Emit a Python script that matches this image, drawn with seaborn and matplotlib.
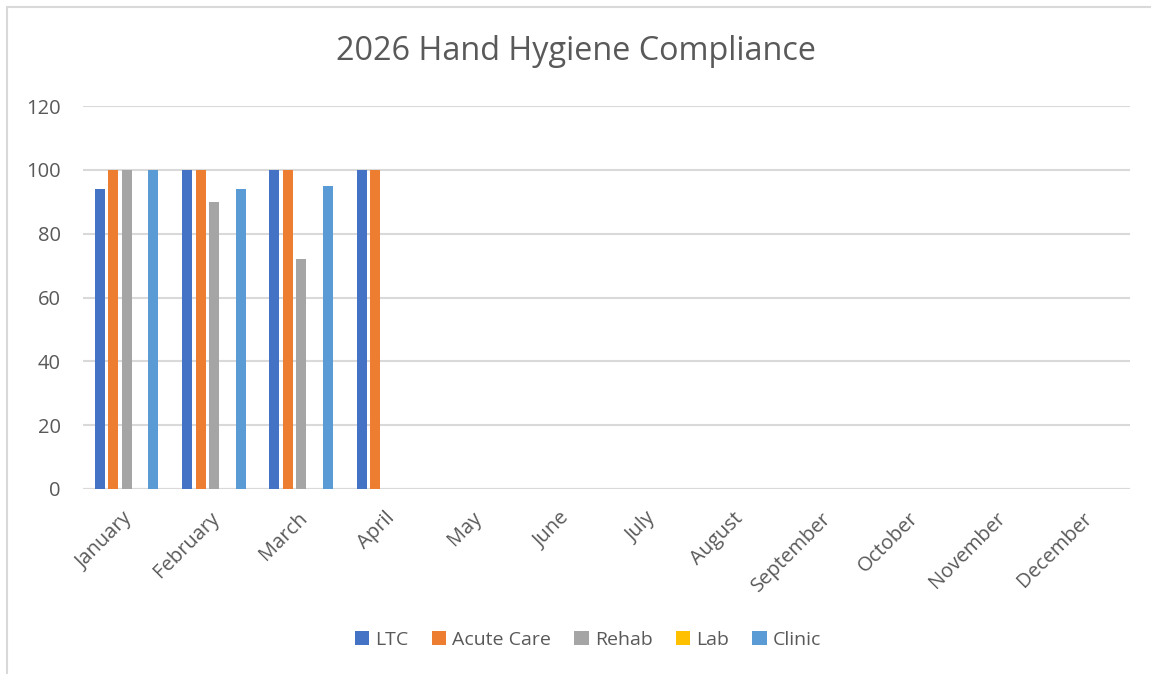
import numpy as np
import pandas as pd
import seaborn as sns
import matplotlib.pyplot as plt
import matplotlib.transforms as mtransforms
from matplotlib.patches import Rectangle

months = ['January', 'February', 'March', 'April', 'May', 'June', 'July',
          'August', 'September', 'October', 'November', 'December']
series = ['LTC', 'Acute Care', 'Rehab', 'Lab', 'Clinic']

ltc = [94, 100, 100, 100, None, None, None, None, None, None, None, None]
acute_care = [100, 100, 100, 100, None, None, None, None, None, None, None, None]
rehab = [100, 90, 72, None, None, None, None, None, None, None, None, None]
lab = [None] * 12
clinic = [100, 94, 95, None, None, None, None, None, None, None, None, None]

colors = {'LTC': '#4472C4', 'Acute Care': '#ED7D31', 'Rehab': '#A5A5A5',
          'Lab': '#FFC000', 'Clinic': '#5B9BD5'}

TEXT = '#595959'
GRID = '#D9D9D9'


def build_frame():
    values = [ltc, acute_care, rehab, lab, clinic]
    rows = []
    for name, vals in zip(series, values):
        for m, v in zip(months, vals):
            rows.append({'month': m, 'unit': name,
                         'value': np.nan if v is None else v})
    return pd.DataFrame(rows)


def main():
    df = build_frame()
    sns.set_theme(style='white')
    plt.rcParams['font.family'] = ['Open Sans', 'DejaVu Sans']

    fig = plt.figure(figsize=(11.51, 6.74), dpi=100)
    ax = fig.add_axes([0.0721, 0.2745, 0.9097, 0.5682])

    sns.barplot(data=df, x='month', y='value', hue='unit', order=months,
                hue_order=series, palette=colors, width=0.764, gap=0.25,
                errorbar=None, saturation=1, linewidth=0, ax=ax)

    ax.set_ylim(0, 120)
    ax.set_yticks(range(0, 121, 20))
    ax.set_xlim(-0.5, 11.5)
    ax.yaxis.grid(True, color=GRID, linewidth=1.5)
    ax.set_axisbelow(True)
    for s in ax.spines.values():
        s.set_visible(False)
    ax.axhline(0, color=GRID, linewidth=1.5, zorder=0.5)
    ax.set_xlabel('')
    ax.set_ylabel('')
    ax.tick_params(axis='both', length=0, colors=TEXT, labelsize=14.5)
    ax.tick_params(axis='y', pad=16)
    ax.tick_params(axis='x', pad=14)
    # nudge month labels a little left, like Excel does
    shift = mtransforms.ScaledTranslation(-4 / 100, 0, fig.dpi_scale_trans)
    for lbl in ax.get_xticklabels():
        lbl.set_rotation(45)
        lbl.set_ha('right')
        lbl.set_rotation_mode('anchor')
        lbl.set_transform(lbl.get_transform() + shift)

    fig.text(0.5, 1 - 52 / 674, '2026 Hand Hygiene Compliance',
             ha='center', va='center', fontsize=23.3, color=TEXT)

    handles, labels = ax.get_legend_handles_labels()
    if ax.legend_ is not None:
        ax.legend_.remove()
    fig.legend(handles, labels, loc='center', ncol=5, frameon=False,
               bbox_to_anchor=(588 / 1151, 1 - 640 / 674),
               handlelength=0.75, handleheight=0.75, handletextpad=0.3,
               columnspacing=1.2, fontsize=14, labelcolor=TEXT)

    fig.patches.append(Rectangle((7 / 1151, -0.1), 1.1, 1.1 - 7 / 674,
                                 transform=fig.transFigure, fill=False,
                                 edgecolor=GRID, linewidth=1.5))

    fig.savefig('out.png', dpi=100, facecolor='white')


if __name__ == '__main__':
    main()
